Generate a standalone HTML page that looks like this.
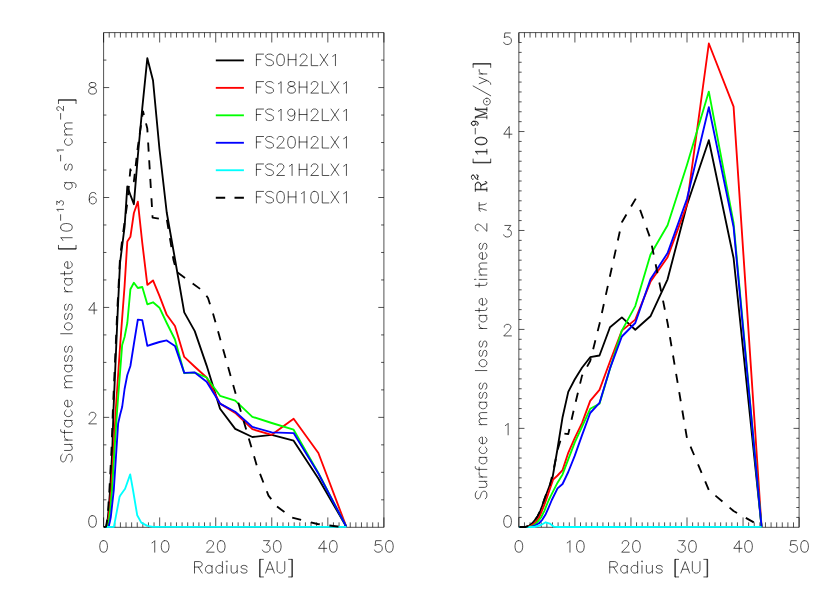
<!DOCTYPE html>
<html lang="en"><head><meta charset="utf-8"><title>Surface mass loss rate vs radius</title>
<style>
html,body{margin:0;padding:0;background:#fff;}
body{width:830px;height:593px;overflow:hidden;font-family:"Liberation Sans",sans-serif;}
svg{display:block;position:absolute;left:0;top:0;}
.sr{position:absolute;left:0;top:0;width:1px;height:1px;overflow:hidden;clip:rect(0 0 0 0);white-space:nowrap;font-family:"Liberation Sans",sans-serif;font-size:10px;color:#fff;}
</style></head><body>
<svg width="830" height="593" viewBox="0 0 830 593" role="img" aria-label="Surface mass loss rate versus radius">
<rect width="830" height="593" fill="#fff"/>
<path d="M103.6 32.6H383.9V527.3H103.6ZM103.6 527.3v-9.89M103.6 32.6v9.89M109.21 527.3v-4.95M109.21 32.6v4.95M114.81 527.3v-4.95M114.81 32.6v4.95M120.42 527.3v-4.95M120.42 32.6v4.95M126.02 527.3v-4.95M126.02 32.6v4.95M131.63 527.3v-4.95M131.63 32.6v4.95M137.24 527.3v-4.95M137.24 32.6v4.95M142.84 527.3v-4.95M142.84 32.6v4.95M148.45 527.3v-4.95M148.45 32.6v4.95M154.05 527.3v-4.95M154.05 32.6v4.95M159.66 527.3v-9.89M159.66 32.6v9.89M165.27 527.3v-4.95M165.27 32.6v4.95M170.87 527.3v-4.95M170.87 32.6v4.95M176.48 527.3v-4.95M176.48 32.6v4.95M182.08 527.3v-4.95M182.08 32.6v4.95M187.69 527.3v-4.95M187.69 32.6v4.95M193.3 527.3v-4.95M193.3 32.6v4.95M198.9 527.3v-4.95M198.9 32.6v4.95M204.51 527.3v-4.95M204.51 32.6v4.95M210.11 527.3v-4.95M210.11 32.6v4.95M215.72 527.3v-9.89M215.72 32.6v9.89M221.33 527.3v-4.95M221.33 32.6v4.95M226.93 527.3v-4.95M226.93 32.6v4.95M232.54 527.3v-4.95M232.54 32.6v4.95M238.14 527.3v-4.95M238.14 32.6v4.95M243.75 527.3v-4.95M243.75 32.6v4.95M249.36 527.3v-4.95M249.36 32.6v4.95M254.96 527.3v-4.95M254.96 32.6v4.95M260.57 527.3v-4.95M260.57 32.6v4.95M266.17 527.3v-4.95M266.17 32.6v4.95M271.78 527.3v-9.89M271.78 32.6v9.89M277.39 527.3v-4.95M277.39 32.6v4.95M282.99 527.3v-4.95M282.99 32.6v4.95M288.6 527.3v-4.95M288.6 32.6v4.95M294.2 527.3v-4.95M294.2 32.6v4.95M299.81 527.3v-4.95M299.81 32.6v4.95M305.42 527.3v-4.95M305.42 32.6v4.95M311.02 527.3v-4.95M311.02 32.6v4.95M316.63 527.3v-4.95M316.63 32.6v4.95M322.23 527.3v-4.95M322.23 32.6v4.95M327.84 527.3v-9.89M327.84 32.6v9.89M333.45 527.3v-4.95M333.45 32.6v4.95M339.05 527.3v-4.95M339.05 32.6v4.95M344.66 527.3v-4.95M344.66 32.6v4.95M350.26 527.3v-4.95M350.26 32.6v4.95M355.87 527.3v-4.95M355.87 32.6v4.95M361.48 527.3v-4.95M361.48 32.6v4.95M367.08 527.3v-4.95M367.08 32.6v4.95M372.69 527.3v-4.95M372.69 32.6v4.95M378.29 527.3v-4.95M378.29 32.6v4.95M383.9 527.3v-9.89M383.9 32.6v9.89M103.6 499.82h2.8M383.9 499.82h-2.8M103.6 472.33h2.8M383.9 472.33h-2.8M103.6 444.85h2.8M383.9 444.85h-2.8M103.6 417.37h5.61M383.9 417.37h-5.61M103.6 389.88h2.8M383.9 389.88h-2.8M103.6 362.4h2.8M383.9 362.4h-2.8M103.6 334.92h2.8M383.9 334.92h-2.8M103.6 307.43h5.61M383.9 307.43h-5.61M103.6 279.95h2.8M383.9 279.95h-2.8M103.6 252.47h2.8M383.9 252.47h-2.8M103.6 224.98h2.8M383.9 224.98h-2.8M103.6 197.5h5.61M383.9 197.5h-5.61M103.6 170.02h2.8M383.9 170.02h-2.8M103.6 142.53h2.8M383.9 142.53h-2.8M103.6 115.05h2.8M383.9 115.05h-2.8M103.6 87.57h5.61M383.9 87.57h-5.61M103.6 60.08h2.8M383.9 60.08h-2.8" stroke="#000" stroke-width="0.68" fill="none"/>
<path d="M518.85 32.6H799.1V527.3H518.85ZM518.85 527.3v-9.89M518.85 32.6v9.89M524.46 527.3v-4.95M524.46 32.6v4.95M530.06 527.3v-4.95M530.06 32.6v4.95M535.67 527.3v-4.95M535.67 32.6v4.95M541.27 527.3v-4.95M541.27 32.6v4.95M546.88 527.3v-4.95M546.88 32.6v4.95M552.48 527.3v-4.95M552.48 32.6v4.95M558.09 527.3v-4.95M558.09 32.6v4.95M563.69 527.3v-4.95M563.69 32.6v4.95M569.3 527.3v-4.95M569.3 32.6v4.95M574.9 527.3v-9.89M574.9 32.6v9.89M580.5 527.3v-4.95M580.5 32.6v4.95M586.11 527.3v-4.95M586.11 32.6v4.95M591.72 527.3v-4.95M591.72 32.6v4.95M597.32 527.3v-4.95M597.32 32.6v4.95M602.93 527.3v-4.95M602.93 32.6v4.95M608.53 527.3v-4.95M608.53 32.6v4.95M614.13 527.3v-4.95M614.13 32.6v4.95M619.74 527.3v-4.95M619.74 32.6v4.95M625.35 527.3v-4.95M625.35 32.6v4.95M630.95 527.3v-9.89M630.95 32.6v9.89M636.56 527.3v-4.95M636.56 32.6v4.95M642.16 527.3v-4.95M642.16 32.6v4.95M647.77 527.3v-4.95M647.77 32.6v4.95M653.37 527.3v-4.95M653.37 32.6v4.95M658.98 527.3v-4.95M658.98 32.6v4.95M664.58 527.3v-4.95M664.58 32.6v4.95M670.19 527.3v-4.95M670.19 32.6v4.95M675.79 527.3v-4.95M675.79 32.6v4.95M681.39 527.3v-4.95M681.39 32.6v4.95M687 527.3v-9.89M687 32.6v9.89M692.61 527.3v-4.95M692.61 32.6v4.95M698.21 527.3v-4.95M698.21 32.6v4.95M703.82 527.3v-4.95M703.82 32.6v4.95M709.42 527.3v-4.95M709.42 32.6v4.95M715.03 527.3v-4.95M715.03 32.6v4.95M720.63 527.3v-4.95M720.63 32.6v4.95M726.24 527.3v-4.95M726.24 32.6v4.95M731.84 527.3v-4.95M731.84 32.6v4.95M737.45 527.3v-4.95M737.45 32.6v4.95M743.05 527.3v-9.89M743.05 32.6v9.89M748.65 527.3v-4.95M748.65 32.6v4.95M754.26 527.3v-4.95M754.26 32.6v4.95M759.87 527.3v-4.95M759.87 32.6v4.95M765.47 527.3v-4.95M765.47 32.6v4.95M771.08 527.3v-4.95M771.08 32.6v4.95M776.68 527.3v-4.95M776.68 32.6v4.95M782.29 527.3v-4.95M782.29 32.6v4.95M787.89 527.3v-4.95M787.89 32.6v4.95M793.5 527.3v-4.95M793.5 32.6v4.95M799.1 527.3v-9.89M799.1 32.6v9.89M518.85 517.41h2.8M799.1 517.41h-2.8M518.85 507.51h2.8M799.1 507.51h-2.8M518.85 497.62h2.8M799.1 497.62h-2.8M518.85 487.72h2.8M799.1 487.72h-2.8M518.85 477.83h2.8M799.1 477.83h-2.8M518.85 467.94h2.8M799.1 467.94h-2.8M518.85 458.04h2.8M799.1 458.04h-2.8M518.85 448.15h2.8M799.1 448.15h-2.8M518.85 438.25h2.8M799.1 438.25h-2.8M518.85 428.36h5.61M799.1 428.36h-5.61M518.85 418.47h2.8M799.1 418.47h-2.8M518.85 408.57h2.8M799.1 408.57h-2.8M518.85 398.68h2.8M799.1 398.68h-2.8M518.85 388.78h2.8M799.1 388.78h-2.8M518.85 378.89h2.8M799.1 378.89h-2.8M518.85 369h2.8M799.1 369h-2.8M518.85 359.1h2.8M799.1 359.1h-2.8M518.85 349.21h2.8M799.1 349.21h-2.8M518.85 339.31h2.8M799.1 339.31h-2.8M518.85 329.42h5.61M799.1 329.42h-5.61M518.85 319.53h2.8M799.1 319.53h-2.8M518.85 309.63h2.8M799.1 309.63h-2.8M518.85 299.74h2.8M799.1 299.74h-2.8M518.85 289.84h2.8M799.1 289.84h-2.8M518.85 279.95h2.8M799.1 279.95h-2.8M518.85 270.06h2.8M799.1 270.06h-2.8M518.85 260.16h2.8M799.1 260.16h-2.8M518.85 250.27h2.8M799.1 250.27h-2.8M518.85 240.37h2.8M799.1 240.37h-2.8M518.85 230.48h5.61M799.1 230.48h-5.61M518.85 220.59h2.8M799.1 220.59h-2.8M518.85 210.69h2.8M799.1 210.69h-2.8M518.85 200.8h2.8M799.1 200.8h-2.8M518.85 190.9h2.8M799.1 190.9h-2.8M518.85 181.01h2.8M799.1 181.01h-2.8M518.85 171.12h2.8M799.1 171.12h-2.8M518.85 161.22h2.8M799.1 161.22h-2.8M518.85 151.33h2.8M799.1 151.33h-2.8M518.85 141.43h2.8M799.1 141.43h-2.8M518.85 131.54h5.61M799.1 131.54h-5.61M518.85 121.65h2.8M799.1 121.65h-2.8M518.85 111.75h2.8M799.1 111.75h-2.8M518.85 101.86h2.8M799.1 101.86h-2.8M518.85 91.96h2.8M799.1 91.96h-2.8M518.85 82.07h2.8M799.1 82.07h-2.8M518.85 72.18h2.8M799.1 72.18h-2.8M518.85 62.28h2.8M799.1 62.28h-2.8M518.85 52.39h2.8M799.1 52.39h-2.8M518.85 42.49h2.8M799.1 42.49h-2.8" stroke="#000" stroke-width="0.68" fill="none"/>
<path d="M104 527 L106.3 526.9 L107.6 520 L108.6 510 L110.1 490 L112.3 450 L113.5 409.5 L117.7 312 L120.02 263 L122.16 246 L124.58 227 L127.31 186.4 L130.4 195 L133.89 204.2 L137.83 156 L142.29 108 L147.33 58.2 L153.02 80.5 L159.46 149 L166.73 212.5 L174.96 259 L184.25 312.4 L194.75 331.1 L206.63 365.6 L220.04 408.7 L235.21 428.9 L252.35 437 L271.72 434.8 L293.62 440.7 L318.37 478.5 L346.34 526.8" fill="none" stroke="#000" stroke-width="1.85" stroke-linejoin="round"/>
<path d="M104 527 L107 526.9 L108.3 520 L109.4 510 L111.1 490 L113.6 450 L115.8 409.5 L118.13 375 L120.02 347 L122.16 318 L124.58 286 L127.31 241.5 L130.4 236.8 L133.89 213 L137.83 201.7 L142.29 243 L147.33 284.9 L153.02 280.4 L159.46 295.9 L166.73 314.8 L174.96 326 L184.25 356.9 L194.75 366.7 L206.63 377.5 L220.04 403.6 L235.21 412.9 L252.35 429.2 L271.72 434.8 L293.62 418.8 L318.37 453 L346.34 526.8" fill="none" stroke="#f00" stroke-width="1.85" stroke-linejoin="round"/>
<path d="M104 527 L107.7 526.9 L109 520 L110.2 510 L112.1 490 L114.5 450 L117.2 409.5 L122.16 345 L124.58 337 L127.31 323 L130.4 289.3 L133.89 282.7 L137.83 288 L142.29 287 L147.33 304.3 L153.02 302.3 L159.46 307.7 L166.73 323 L174.96 339.5 L184.25 373.2 L194.75 372.7 L206.63 377.5 L220.04 395.8 L235.21 400.6 L252.35 416.8 L271.72 423 L293.62 429.7 L318.37 473 L346.34 526.8" fill="none" stroke="#0f0" stroke-width="1.85" stroke-linejoin="round"/>
<path d="M104 527 L108.6 526.8 L109.8 522 L110.8 517 L113.8 490 L116.4 450 L118.13 423.6 L120.02 415 L122.16 407 L124.58 389 L127.31 375 L130.4 366 L133.89 344 L137.83 319.6 L142.29 320.1 L147.33 345.9 L153.02 344 L159.46 342 L166.73 340.4 L174.96 345.9 L184.25 372.9 L194.75 372.4 L206.63 381.7 L220.04 403.6 L235.21 411.7 L252.35 426.9 L271.72 432.3 L293.62 433.1 L318.37 473.5 L346.34 526.8" fill="none" stroke="#00f" stroke-width="1.85" stroke-linejoin="round"/>
<path d="M104 527 L113.9 526.9 L119.6 496.7 L120.6 495 L125.1 488.7 L130.2 474.4 L133 490 L137.2 515.2 L141.3 522.6 L147.3 525.9 L153 526.8 L346.34 526.8" fill="none" stroke="#0ff" stroke-width="1.85" stroke-linejoin="round"/>
<path d="M104 527 L106 526.9 L107.2 520 L108.1 510 L109.4 490 L111.5 450 L112.9 409.5 L117.2 312 L120.02 258 L122.16 240 L124.58 222 L127.31 203 L130.4 169.3 L133.89 181.3 L137.83 147 L143 111.3 L147.3 128.5 L152.6 217.7 L160.3 218.8 L166.9 219.7 L173.5 260 L176.7 271.8 L203 291 L208 298 L213 313.4 L235.8 394.3 L256.7 465.3 L268.5 495.6 L277 506.6 L292.2 517.6 L317.5 524 L337.7 526.5 L346.34 526.9" fill="none" stroke="#000" stroke-width="1.85" stroke-linejoin="round" stroke-dasharray="9.2 9.11 9.2 9.11 9.2 9.11 9.2 9.11 9.2 9.48 9.2 9.48 9.2 9.48 9.2 9.48 9.2 9.48 9.2 9.48 9.2 9.48 9.2 9.48 9.2 9.48 9.2 9.48 9.2 9.48 9.2 9.48 9.2 9.48 9.2 9.48 9.2 9.48 9.2 9.8 8.33 7.69 8.33 7.69 8.33 7.69 9.2 8.65 9.2 8.65 9.2 10.1 9.2 8.58 9.2 9.44 9.2 10.24 8.83 8.15 8.83 8.15 9.2 9.44 9.2 9.18 8.91 8.23 9.2 9.42 9.2 9.49 9.2 9.72 9.2 9.39 9.2 9.39 9.2 9.39 9.2 9.39 9.2 9.39 9.2 9.39 9.2 9.39 9.2 9.39 9.2 9.39 9.2 9.39 9.2 9.39 9.2 9.56 9.2 9.96 9.2 9.66 9.2 9.45 9.2 9.45 9.2 9.45 9.2 9.45 9.2 9.45 9.2 9.45"/>
<path d="M519.3 527 L525.5 527 L528.9 526 L532.2 523.3 L534.9 520.2 L537.6 516.2 L540.3 510.8 L542.4 505.4 L544.1 500 L545.8 495.8 L552.5 477.9 L557.3 450 L562.57 417.2 L568.26 391.9 L574.7 379.5 L581.97 367.7 L590.19 357.2 L599.49 355.5 L609.99 327.2 L621.86 317.4 L635.27 329.7 L650.44 316.3 L667.57 279.3 L686.94 205 L708.84 140.2 L733.58 258 L761.55 526.8" fill="none" stroke="#000" stroke-width="1.85" stroke-linejoin="round"/>
<path d="M519.3 527 L527 527 L530.5 526.2 L535.6 522.3 L539 517.5 L541.7 511.5 L544.4 504.7 L546.1 500 L548 494.4 L553.07 479.7 L557.53 475.5 L562.57 470.1 L568.26 452.8 L574.7 438.1 L581.97 423.1 L590.19 400.9 L599.49 389.9 L609.99 361.5 L621.86 330.6 L635.27 319.6 L650.44 281.8 L667.57 257.3 L686.94 204.7 L708.84 43.5 L733.58 106.7 L761.55 526.8" fill="none" stroke="#f00" stroke-width="1.85" stroke-linejoin="round"/>
<path d="M519.3 527 L529 527 L532.5 526.2 L537 522.6 L541 517.5 L544.4 510.8 L547.1 504 L548.8 500 L550.8 495.8 L557.53 482.7 L562.57 474.4 L568.26 459.4 L574.7 442.6 L581.97 426.8 L590.19 408.8 L599.49 403.7 L609.99 368.8 L621.86 330.6 L635.27 306.1 L650.44 254.8 L667.57 225.3 L686.94 165 L708.84 91.6 L733.58 223 L761.55 526.8" fill="none" stroke="#0f0" stroke-width="1.85" stroke-linejoin="round"/>
<path d="M519.3 527 L531 527 L534.3 526 L539 523.3 L542.4 519.6 L545.7 514.2 L548.4 508.1 L551.8 500 L557.53 488.4 L562.57 484 L568.26 472 L574.7 455.9 L581.97 435.4 L590.19 413 L599.49 402.9 L609.99 368.4 L621.86 336.5 L635.27 323 L650.44 279.3 L667.57 253.1 L686.94 199 L708.84 107.2 L733.58 227 L761.55 526.8" fill="none" stroke="#00f" stroke-width="1.85" stroke-linejoin="round"/>
<path d="M519.3 527 L534.3 527 L541 525 L545.7 522.3 L549.8 523.6 L553.8 526.7 L558 527 L761.55 526.8" fill="none" stroke="#0ff" stroke-width="1.85" stroke-linejoin="round"/>
<path d="M519.3 527 L525.5 527 L528.9 526 L532.2 523.3 L534.9 520.2 L537.6 516.2 L540.3 510.8 L542.55 505 L545.64 495.6 L549.13 488.2 L553.07 472.1 L557.53 450.2 L562.57 433.5 L568.26 434.1 L574.7 406 L581.97 375.9 L590.19 361 L599.49 324 L609.99 276 L621.86 222.2 L636 198.3 L650.44 238.7 L667.57 323 L686.94 438 L708.84 490 L733.58 511 L761.55 526.8" fill="none" stroke="#000" stroke-width="1.85" stroke-linejoin="round" stroke-dasharray="9.2 9.38 9.2 9.38 9.2 9.38 9.2 9.38 9.2 9.38 9.2 9.38 9.2 9.38 9.2 9.38 9.2 9.38 9.2 9.38 9.2 9.38 9.2 9.38 9.2 9.38 9.2 9.38 9.2 9.38 9.2 9.38 9.2 9.38 9.2 9.24 9.2 9.22 9.2 12.65 9.2 9.79 9.2 9.58 9.2 9.79 9.2 9.38 9.2 9.38 9.2 9.38 9.2 9.38 9.2 9.38 9.2 9.38 9.2 9.38 9.2 9.38 9.2 9.38 9.2 9.38 9.2 10.15 9.2 9.23 9.2 8.82 9.2 9.4 9.2 10.06 9.2 9.45 9.2 9.45 9.2 9.45 9.2 9.45 9.2 9.45 9.2 9.45"/>
<path transform="translate(103.6 552.2) translate(-5.47 0)" d="M4.92 -11.53 L6.02 -11.53 L7.66 -10.98 L8.75 -9.33 L9.3 -6.59 L9.3 -4.94 L8.75 -2.2 L7.66 -0.55 L6.02 0 L4.92 0 L3.28 -0.55 L2.19 -2.2 L1.64 -4.94 L1.64 -6.59 L2.19 -9.33 L3.28 -10.98 L4.92 -11.53" fill="none" stroke="#000" stroke-width="0.68" stroke-linecap="round" stroke-linejoin="round"/>
<path transform="translate(159.66 552.2) translate(-10.94 0)" d="M6.02 0 L6.02 -11.53 L4.38 -9.88 L3.28 -9.33M15.86 -11.53 L16.96 -11.53 L18.6 -10.98 L19.69 -9.33 L20.24 -6.59 L20.24 -4.94 L19.69 -2.2 L18.6 -0.55 L16.96 0 L15.86 0 L14.22 -0.55 L13.13 -2.2 L12.58 -4.94 L12.58 -6.59 L13.13 -9.33 L14.22 -10.98 L15.86 -11.53" fill="none" stroke="#000" stroke-width="0.68" stroke-linecap="round" stroke-linejoin="round"/>
<path transform="translate(215.72 552.2) translate(-10.94 0)" d="M2.19 -8.78 L2.19 -9.33 L2.74 -10.43 L3.28 -10.98 L4.38 -11.53 L6.56 -11.53 L7.66 -10.98 L8.21 -10.43 L8.75 -9.33 L8.75 -8.24 L8.21 -7.14 L7.11 -5.49 L1.64 0 L9.3 0M15.86 -11.53 L16.96 -11.53 L18.6 -10.98 L19.69 -9.33 L20.24 -6.59 L20.24 -4.94 L19.69 -2.2 L18.6 -0.55 L16.96 0 L15.86 0 L14.22 -0.55 L13.13 -2.2 L12.58 -4.94 L12.58 -6.59 L13.13 -9.33 L14.22 -10.98 L15.86 -11.53" fill="none" stroke="#000" stroke-width="0.68" stroke-linecap="round" stroke-linejoin="round"/>
<path transform="translate(271.78 552.2) translate(-10.94 0)" d="M2.74 -11.53 L8.75 -11.53 L5.47 -7.14 L7.11 -7.14 L8.21 -6.59 L8.75 -6.04 L9.3 -4.39 L9.3 -3.29 L8.75 -1.65 L7.66 -0.55 L6.02 0 L4.38 0 L2.74 -0.55 L2.19 -1.1 L1.64 -2.2M15.86 -11.53 L16.96 -11.53 L18.6 -10.98 L19.69 -9.33 L20.24 -6.59 L20.24 -4.94 L19.69 -2.2 L18.6 -0.55 L16.96 0 L15.86 0 L14.22 -0.55 L13.13 -2.2 L12.58 -4.94 L12.58 -6.59 L13.13 -9.33 L14.22 -10.98 L15.86 -11.53" fill="none" stroke="#000" stroke-width="0.68" stroke-linecap="round" stroke-linejoin="round"/>
<path transform="translate(327.84 552.2) translate(-10.94 0)" d="M7.11 0 L7.11 -11.53 L1.64 -3.84 L9.85 -3.84M15.86 -11.53 L16.96 -11.53 L18.6 -10.98 L19.69 -9.33 L20.24 -6.59 L20.24 -4.94 L19.69 -2.2 L18.6 -0.55 L16.96 0 L15.86 0 L14.22 -0.55 L13.13 -2.2 L12.58 -4.94 L12.58 -6.59 L13.13 -9.33 L14.22 -10.98 L15.86 -11.53" fill="none" stroke="#000" stroke-width="0.68" stroke-linecap="round" stroke-linejoin="round"/>
<path transform="translate(383.9 552.2) translate(-10.94 0)" d="M8.21 -11.53 L2.74 -11.53 L2.19 -6.59 L2.74 -7.14 L4.38 -7.69 L6.02 -7.69 L7.66 -7.14 L8.75 -6.04 L9.3 -4.39 L9.3 -3.29 L8.75 -1.65 L7.66 -0.55 L6.02 0 L4.38 0 L2.74 -0.55 L2.19 -1.1 L1.64 -2.2M15.86 -11.53 L16.96 -11.53 L18.6 -10.98 L19.69 -9.33 L20.24 -6.59 L20.24 -4.94 L19.69 -2.2 L18.6 -0.55 L16.96 0 L15.86 0 L14.22 -0.55 L13.13 -2.2 L12.58 -4.94 L12.58 -6.59 L13.13 -9.33 L14.22 -10.98 L15.86 -11.53" fill="none" stroke="#000" stroke-width="0.68" stroke-linecap="round" stroke-linejoin="round"/>
<path transform="translate(243.45 573.1) translate(-51.14 0)" d="M2.19 0 L2.19 -11.53 L7.11 -11.53 L8.75 -10.98 L9.3 -10.43 L9.85 -9.33 L9.85 -8.24 L9.3 -7.14 L8.75 -6.59 L7.11 -6.04 L2.19 -6.04M6.02 -6.04 L9.85 0M19.69 -7.69 L19.69 0M19.69 -6.04 L18.6 -7.14 L17.5 -7.69 L15.86 -7.69 L14.77 -7.14 L13.68 -6.04 L13.13 -4.39 L13.13 -3.29 L13.68 -1.65 L14.77 -0.55 L15.86 0 L17.5 0 L18.6 -0.55 L19.69 -1.65M30.09 -11.53 L30.09 0M30.09 -6.04 L28.99 -7.14 L27.9 -7.69 L26.26 -7.69 L25.16 -7.14 L24.07 -6.04 L23.52 -4.39 L23.52 -3.29 L24.07 -1.65 L25.16 -0.55 L26.26 0 L27.9 0 L28.99 -0.55 L30.09 -1.65M34.46 -7.69 L34.46 0M34.46 -12.08 L33.91 -11.53 L34.46 -10.98 L35.01 -11.53 L34.46 -12.08M38.84 -7.69 L38.84 -2.2 L39.38 -0.55 L40.48 0 L42.12 0 L43.21 -0.55 L44.85 -2.2M44.85 -7.69 L44.85 0M54.7 -6.04 L54.15 -7.14 L52.51 -7.69 L50.87 -7.69 L49.23 -7.14 L48.68 -6.04 L49.23 -4.94 L50.32 -4.39 L53.06 -3.84 L54.15 -3.29 L54.7 -2.2 L54.7 -1.65 L54.15 -0.55 L52.51 0 L50.87 0 L49.23 -0.55 L48.68 -1.65M71.11 -13.73 L67.28 -13.73 L67.28 3.84 L71.11 3.84M67.83 -13.73 L67.83 3.84M73.3 0 L77.67 -11.53 L82.05 0M74.94 -3.84 L80.41 -3.84M84.79 -11.53 L84.79 -3.29 L85.33 -1.65 L86.43 -0.55 L88.07 0 L89.16 0 L90.8 -0.55 L91.9 -1.65 L92.44 -3.29 L92.44 -11.53M96.27 -13.73 L100.1 -13.73 L100.1 3.84 L96.27 3.84M99.55 -13.73 L99.55 3.84" fill="none" stroke="#000" stroke-width="0.68" stroke-linecap="round" stroke-linejoin="round"/>
<path transform="translate(518.85 552.2) translate(-5.47 0)" d="M4.92 -11.53 L6.02 -11.53 L7.66 -10.98 L8.75 -9.33 L9.3 -6.59 L9.3 -4.94 L8.75 -2.2 L7.66 -0.55 L6.02 0 L4.92 0 L3.28 -0.55 L2.19 -2.2 L1.64 -4.94 L1.64 -6.59 L2.19 -9.33 L3.28 -10.98 L4.92 -11.53" fill="none" stroke="#000" stroke-width="0.68" stroke-linecap="round" stroke-linejoin="round"/>
<path transform="translate(574.9 552.2) translate(-10.94 0)" d="M6.02 0 L6.02 -11.53 L4.38 -9.88 L3.28 -9.33M15.86 -11.53 L16.96 -11.53 L18.6 -10.98 L19.69 -9.33 L20.24 -6.59 L20.24 -4.94 L19.69 -2.2 L18.6 -0.55 L16.96 0 L15.86 0 L14.22 -0.55 L13.13 -2.2 L12.58 -4.94 L12.58 -6.59 L13.13 -9.33 L14.22 -10.98 L15.86 -11.53" fill="none" stroke="#000" stroke-width="0.68" stroke-linecap="round" stroke-linejoin="round"/>
<path transform="translate(630.95 552.2) translate(-10.94 0)" d="M2.19 -8.78 L2.19 -9.33 L2.74 -10.43 L3.28 -10.98 L4.38 -11.53 L6.56 -11.53 L7.66 -10.98 L8.21 -10.43 L8.75 -9.33 L8.75 -8.24 L8.21 -7.14 L7.11 -5.49 L1.64 0 L9.3 0M15.86 -11.53 L16.96 -11.53 L18.6 -10.98 L19.69 -9.33 L20.24 -6.59 L20.24 -4.94 L19.69 -2.2 L18.6 -0.55 L16.96 0 L15.86 0 L14.22 -0.55 L13.13 -2.2 L12.58 -4.94 L12.58 -6.59 L13.13 -9.33 L14.22 -10.98 L15.86 -11.53" fill="none" stroke="#000" stroke-width="0.68" stroke-linecap="round" stroke-linejoin="round"/>
<path transform="translate(687 552.2) translate(-10.94 0)" d="M2.74 -11.53 L8.75 -11.53 L5.47 -7.14 L7.11 -7.14 L8.21 -6.59 L8.75 -6.04 L9.3 -4.39 L9.3 -3.29 L8.75 -1.65 L7.66 -0.55 L6.02 0 L4.38 0 L2.74 -0.55 L2.19 -1.1 L1.64 -2.2M15.86 -11.53 L16.96 -11.53 L18.6 -10.98 L19.69 -9.33 L20.24 -6.59 L20.24 -4.94 L19.69 -2.2 L18.6 -0.55 L16.96 0 L15.86 0 L14.22 -0.55 L13.13 -2.2 L12.58 -4.94 L12.58 -6.59 L13.13 -9.33 L14.22 -10.98 L15.86 -11.53" fill="none" stroke="#000" stroke-width="0.68" stroke-linecap="round" stroke-linejoin="round"/>
<path transform="translate(743.05 552.2) translate(-10.94 0)" d="M7.11 0 L7.11 -11.53 L1.64 -3.84 L9.85 -3.84M15.86 -11.53 L16.96 -11.53 L18.6 -10.98 L19.69 -9.33 L20.24 -6.59 L20.24 -4.94 L19.69 -2.2 L18.6 -0.55 L16.96 0 L15.86 0 L14.22 -0.55 L13.13 -2.2 L12.58 -4.94 L12.58 -6.59 L13.13 -9.33 L14.22 -10.98 L15.86 -11.53" fill="none" stroke="#000" stroke-width="0.68" stroke-linecap="round" stroke-linejoin="round"/>
<path transform="translate(799.1 552.2) translate(-10.94 0)" d="M8.21 -11.53 L2.74 -11.53 L2.19 -6.59 L2.74 -7.14 L4.38 -7.69 L6.02 -7.69 L7.66 -7.14 L8.75 -6.04 L9.3 -4.39 L9.3 -3.29 L8.75 -1.65 L7.66 -0.55 L6.02 0 L4.38 0 L2.74 -0.55 L2.19 -1.1 L1.64 -2.2M15.86 -11.53 L16.96 -11.53 L18.6 -10.98 L19.69 -9.33 L20.24 -6.59 L20.24 -4.94 L19.69 -2.2 L18.6 -0.55 L16.96 0 L15.86 0 L14.22 -0.55 L13.13 -2.2 L12.58 -4.94 L12.58 -6.59 L13.13 -9.33 L14.22 -10.98 L15.86 -11.53" fill="none" stroke="#000" stroke-width="0.68" stroke-linecap="round" stroke-linejoin="round"/>
<path transform="translate(658.68 573.1) translate(-51.14 0)" d="M2.19 0 L2.19 -11.53 L7.11 -11.53 L8.75 -10.98 L9.3 -10.43 L9.85 -9.33 L9.85 -8.24 L9.3 -7.14 L8.75 -6.59 L7.11 -6.04 L2.19 -6.04M6.02 -6.04 L9.85 0M19.69 -7.69 L19.69 0M19.69 -6.04 L18.6 -7.14 L17.5 -7.69 L15.86 -7.69 L14.77 -7.14 L13.68 -6.04 L13.13 -4.39 L13.13 -3.29 L13.68 -1.65 L14.77 -0.55 L15.86 0 L17.5 0 L18.6 -0.55 L19.69 -1.65M30.09 -11.53 L30.09 0M30.09 -6.04 L28.99 -7.14 L27.9 -7.69 L26.26 -7.69 L25.16 -7.14 L24.07 -6.04 L23.52 -4.39 L23.52 -3.29 L24.07 -1.65 L25.16 -0.55 L26.26 0 L27.9 0 L28.99 -0.55 L30.09 -1.65M34.46 -7.69 L34.46 0M34.46 -12.08 L33.91 -11.53 L34.46 -10.98 L35.01 -11.53 L34.46 -12.08M38.84 -7.69 L38.84 -2.2 L39.38 -0.55 L40.48 0 L42.12 0 L43.21 -0.55 L44.85 -2.2M44.85 -7.69 L44.85 0M54.7 -6.04 L54.15 -7.14 L52.51 -7.69 L50.87 -7.69 L49.23 -7.14 L48.68 -6.04 L49.23 -4.94 L50.32 -4.39 L53.06 -3.84 L54.15 -3.29 L54.7 -2.2 L54.7 -1.65 L54.15 -0.55 L52.51 0 L50.87 0 L49.23 -0.55 L48.68 -1.65M71.11 -13.73 L67.28 -13.73 L67.28 3.84 L71.11 3.84M67.83 -13.73 L67.83 3.84M73.3 0 L77.67 -11.53 L82.05 0M74.94 -3.84 L80.41 -3.84M84.79 -11.53 L84.79 -3.29 L85.33 -1.65 L86.43 -0.55 L88.07 0 L89.16 0 L90.8 -0.55 L91.9 -1.65 L92.44 -3.29 L92.44 -11.53M96.27 -13.73 L100.1 -13.73 L100.1 3.84 L96.27 3.84M99.55 -13.73 L99.55 3.84" fill="none" stroke="#000" stroke-width="0.68" stroke-linecap="round" stroke-linejoin="round"/>
<path transform="translate(98 527.2) translate(-10.94 0)" d="M4.92 -11.53 L6.02 -11.53 L7.66 -10.98 L8.75 -9.33 L9.3 -6.59 L9.3 -4.94 L8.75 -2.2 L7.66 -0.55 L6.02 0 L4.92 0 L3.28 -0.55 L2.19 -2.2 L1.64 -4.94 L1.64 -6.59 L2.19 -9.33 L3.28 -10.98 L4.92 -11.53" fill="none" stroke="#000" stroke-width="0.68" stroke-linecap="round" stroke-linejoin="round"/>
<path transform="translate(98 423.87) translate(-10.94 0)" d="M2.19 -8.78 L2.19 -9.33 L2.74 -10.43 L3.28 -10.98 L4.38 -11.53 L6.56 -11.53 L7.66 -10.98 L8.21 -10.43 L8.75 -9.33 L8.75 -8.24 L8.21 -7.14 L7.11 -5.49 L1.64 0 L9.3 0" fill="none" stroke="#000" stroke-width="0.68" stroke-linecap="round" stroke-linejoin="round"/>
<path transform="translate(98 313.93) translate(-10.94 0)" d="M7.11 0 L7.11 -11.53 L1.64 -3.84 L9.85 -3.84" fill="none" stroke="#000" stroke-width="0.68" stroke-linecap="round" stroke-linejoin="round"/>
<path transform="translate(98 204) translate(-10.94 0)" d="M8.75 -9.88 L8.21 -10.98 L6.56 -11.53 L5.47 -11.53 L3.83 -10.98 L2.74 -9.33 L2.19 -6.59 L2.19 -3.84 L2.74 -5.49 L3.83 -6.59 L5.47 -7.14 L6.02 -7.14 L7.66 -6.59 L8.75 -5.49 L9.3 -3.84 L9.3 -3.29 L8.75 -1.65 L7.66 -0.55 L6.02 0 L5.47 0 L3.83 -0.55 L2.74 -1.65 L2.19 -3.84" fill="none" stroke="#000" stroke-width="0.68" stroke-linecap="round" stroke-linejoin="round"/>
<path transform="translate(98 94.07) translate(-10.94 0)" d="M4.38 -11.53 L6.56 -11.53 L8.21 -10.98 L8.75 -9.88 L8.75 -8.78 L8.21 -7.69 L7.11 -7.14 L4.92 -6.59 L3.28 -6.04 L2.19 -4.94 L1.64 -3.84 L1.64 -2.2 L2.19 -1.1 L2.74 -0.55 L4.38 0 L6.56 0 L8.21 -0.55 L8.75 -1.1 L9.3 -2.2 L9.3 -3.84 L8.75 -4.94 L7.66 -6.04 L6.02 -6.59 L3.83 -7.14 L2.74 -7.69 L2.19 -8.78 L2.19 -9.88 L2.74 -10.98 L4.38 -11.53" fill="none" stroke="#000" stroke-width="0.68" stroke-linecap="round" stroke-linejoin="round"/>
<path transform="translate(513.05 527.2) translate(-10.94 0)" d="M4.92 -11.53 L6.02 -11.53 L7.66 -10.98 L8.75 -9.33 L9.3 -6.59 L9.3 -4.94 L8.75 -2.2 L7.66 -0.55 L6.02 0 L4.92 0 L3.28 -0.55 L2.19 -2.2 L1.64 -4.94 L1.64 -6.59 L2.19 -9.33 L3.28 -10.98 L4.92 -11.53" fill="none" stroke="#000" stroke-width="0.68" stroke-linecap="round" stroke-linejoin="round"/>
<path transform="translate(513.05 434.86) translate(-10.94 0)" d="M6.02 0 L6.02 -11.53 L4.38 -9.88 L3.28 -9.33" fill="none" stroke="#000" stroke-width="0.68" stroke-linecap="round" stroke-linejoin="round"/>
<path transform="translate(513.05 335.92) translate(-10.94 0)" d="M2.19 -8.78 L2.19 -9.33 L2.74 -10.43 L3.28 -10.98 L4.38 -11.53 L6.56 -11.53 L7.66 -10.98 L8.21 -10.43 L8.75 -9.33 L8.75 -8.24 L8.21 -7.14 L7.11 -5.49 L1.64 0 L9.3 0" fill="none" stroke="#000" stroke-width="0.68" stroke-linecap="round" stroke-linejoin="round"/>
<path transform="translate(513.05 236.98) translate(-10.94 0)" d="M2.74 -11.53 L8.75 -11.53 L5.47 -7.14 L7.11 -7.14 L8.21 -6.59 L8.75 -6.04 L9.3 -4.39 L9.3 -3.29 L8.75 -1.65 L7.66 -0.55 L6.02 0 L4.38 0 L2.74 -0.55 L2.19 -1.1 L1.64 -2.2" fill="none" stroke="#000" stroke-width="0.68" stroke-linecap="round" stroke-linejoin="round"/>
<path transform="translate(513.05 138.04) translate(-10.94 0)" d="M7.11 0 L7.11 -11.53 L1.64 -3.84 L9.85 -3.84" fill="none" stroke="#000" stroke-width="0.68" stroke-linecap="round" stroke-linejoin="round"/>
<path transform="translate(513.05 44.48) translate(-10.94 0)" d="M8.21 -11.53 L2.74 -11.53 L2.19 -6.59 L2.74 -7.14 L4.38 -7.69 L6.02 -7.69 L7.66 -7.14 L8.75 -6.04 L9.3 -4.39 L9.3 -3.29 L8.75 -1.65 L7.66 -0.55 L6.02 0 L4.38 0 L2.74 -0.55 L2.19 -1.1 L1.64 -2.2" fill="none" stroke="#000" stroke-width="0.68" stroke-linecap="round" stroke-linejoin="round"/>
<path transform="translate(72.2 280.55) rotate(-90) translate(-183 0)" d="M9.27 -9.88 L8.18 -10.98 L6.55 -11.53 L4.36 -11.53 L2.73 -10.98 L1.64 -9.88 L1.64 -8.78 L2.18 -7.69 L2.73 -7.14 L3.82 -6.59 L7.09 -5.49 L8.18 -4.94 L8.73 -4.39 L9.27 -3.29 L9.27 -1.65 L8.18 -0.55 L6.55 0 L4.36 0 L2.73 -0.55 L1.64 -1.65M13.09 -7.69 L13.09 -2.2 L13.64 -0.55 L14.73 0 L16.37 0 L17.46 -0.55 L19.09 -2.2M19.09 -7.69 L19.09 0M23.46 -7.69 L23.46 0M27.82 -7.69 L26.18 -7.69 L25.09 -7.14 L24 -6.04 L23.46 -4.39M33.82 -11.53 L32.73 -11.53 L31.64 -10.98 L31.09 -9.33 L31.09 0M29.46 -7.69 L33.28 -7.69M43.09 -7.69 L43.09 0M43.09 -6.04 L42 -7.14 L40.91 -7.69 L39.28 -7.69 L38.19 -7.14 L37.09 -6.04 L36.55 -4.39 L36.55 -3.29 L37.09 -1.65 L38.19 -0.55 L39.28 0 L40.91 0 L42 -0.55 L43.09 -1.65M53.46 -6.04 L52.37 -7.14 L51.28 -7.69 L49.64 -7.69 L48.55 -7.14 L47.46 -6.04 L46.91 -4.39 L46.91 -3.29 L47.46 -1.65 L48.55 -0.55 L49.64 0 L51.28 0 L52.37 -0.55 L53.46 -1.65M63.28 -1.65 L62.19 -0.55 L61.1 0 L59.46 0 L58.37 -0.55 L57.28 -1.65 L56.73 -3.29 L56.73 -4.39 L57.28 -6.04 L58.37 -7.14 L59.46 -7.69 L61.1 -7.69 L62.19 -7.14 L62.73 -6.59 L63.28 -5.49 L63.28 -4.39 L56.73 -4.39M75.82 -7.69 L75.82 0M75.82 -5.49 L77.46 -7.14 L78.55 -7.69 L80.19 -7.69 L81.28 -7.14 L81.83 -5.49 L83.46 -7.14 L84.55 -7.69 L86.19 -7.69 L87.28 -7.14 L87.83 -5.49 L87.83 0M81.83 -5.49 L81.83 0M98.19 -7.69 L98.19 0M98.19 -6.04 L97.1 -7.14 L96.01 -7.69 L94.37 -7.69 L93.28 -7.14 L92.19 -6.04 L91.64 -4.39 L91.64 -3.29 L92.19 -1.65 L93.28 -0.55 L94.37 0 L96.01 0 L97.1 -0.55 L98.19 -1.65M108.01 -6.04 L107.46 -7.14 L105.83 -7.69 L104.19 -7.69 L102.55 -7.14 L102.01 -6.04 L102.55 -4.94 L103.64 -4.39 L106.37 -3.84 L107.46 -3.29 L108.01 -2.2 L108.01 -1.65 L107.46 -0.55 L105.83 0 L104.19 0 L102.55 -0.55 L102.01 -1.65M117.28 -6.04 L116.74 -7.14 L115.1 -7.69 L113.46 -7.69 L111.83 -7.14 L111.28 -6.04 L111.83 -4.94 L112.92 -4.39 L115.65 -3.84 L116.74 -3.29 L117.28 -2.2 L117.28 -1.65 L116.74 -0.55 L115.1 0 L113.46 0 L111.83 -0.55 L111.28 -1.65M129.83 -11.53 L129.83 0M136.37 -7.69 L138.01 -7.69 L139.1 -7.14 L140.19 -6.04 L140.74 -4.39 L140.74 -3.29 L140.19 -1.65 L139.1 -0.55 L138.01 0 L136.37 0 L135.28 -0.55 L134.19 -1.65 L133.65 -3.29 L133.65 -4.39 L134.19 -6.04 L135.28 -7.14 L136.37 -7.69M150.01 -6.04 L149.47 -7.14 L147.83 -7.69 L146.19 -7.69 L144.56 -7.14 L144.01 -6.04 L144.56 -4.94 L145.65 -4.39 L148.38 -3.84 L149.47 -3.29 L150.01 -2.2 L150.01 -1.65 L149.47 -0.55 L147.83 0 L146.19 0 L144.56 -0.55 L144.01 -1.65M159.29 -6.04 L158.74 -7.14 L157.1 -7.69 L155.47 -7.69 L153.83 -7.14 L153.29 -6.04 L153.83 -4.94 L154.92 -4.39 L157.65 -3.84 L158.74 -3.29 L159.29 -2.2 L159.29 -1.65 L158.74 -0.55 L157.1 0 L155.47 0 L153.83 -0.55 L153.29 -1.65M171.83 -7.69 L171.83 0M176.2 -7.69 L174.56 -7.69 L173.47 -7.14 L172.38 -6.04 L171.83 -4.39M184.92 -7.69 L184.92 0M184.92 -6.04 L183.83 -7.14 L182.74 -7.69 L181.11 -7.69 L180.01 -7.14 L178.92 -6.04 L178.38 -4.39 L178.38 -3.29 L178.92 -1.65 L180.01 -0.55 L181.11 0 L182.74 0 L183.83 -0.55 L184.92 -1.65M189.83 -11.53 L189.83 -2.2 L190.38 -0.55 L191.47 0 L192.56 0M188.2 -7.69 L192.02 -7.69M201.83 -1.65 L200.74 -0.55 L199.65 0 L198.02 0 L196.93 -0.55 L195.83 -1.65 L195.29 -3.29 L195.29 -4.39 L195.83 -6.04 L196.93 -7.14 L198.02 -7.69 L199.65 -7.69 L200.74 -7.14 L201.29 -6.59 L201.83 -5.49 L201.83 -4.39 L195.29 -4.39M218.2 -13.73 L214.38 -13.73 L214.38 3.84 L218.2 3.84M214.93 -13.73 L214.93 3.84M225.84 0 L225.84 -11.53 L224.2 -9.88 L223.11 -9.33M235.66 -11.53 L236.75 -11.53 L238.38 -10.98 L239.47 -9.33 L240.02 -6.59 L240.02 -4.94 L239.47 -2.2 L238.38 -0.55 L236.75 0 L235.66 0 L234.02 -0.55 L232.93 -2.2 L232.38 -4.94 L232.38 -6.59 L232.93 -9.33 L234.02 -10.98 L235.66 -11.53M243.22 -11.58 L248.89 -11.58M254.15 -8.73 L254.15 -15.39 L253.2 -14.44 L252.57 -14.12M259.02 -15.39 L262.49 -15.39 L260.6 -12.85 L261.54 -12.85 L262.17 -12.54 L262.49 -12.22 L262.8 -11.27 L262.8 -10.63 L262.49 -9.68 L261.86 -9.05 L260.91 -8.73 L259.97 -8.73 L259.02 -9.05 L258.7 -9.36 L258.39 -10M280.89 -7.69 L280.89 1.1 L280.34 2.75 L279.8 3.29 L278.71 3.84 L277.07 3.84 L275.98 3.29M280.89 -6.04 L279.8 -7.14 L278.71 -7.69 L277.07 -7.69 L275.98 -7.14 L274.89 -6.04 L274.34 -4.39 L274.34 -3.29 L274.89 -1.65 L275.98 -0.55 L277.07 0 L278.71 0 L279.8 -0.55 L280.89 -1.65M299.44 -6.04 L298.89 -7.14 L297.25 -7.69 L295.62 -7.69 L293.98 -7.14 L293.44 -6.04 L293.98 -4.94 L295.07 -4.39 L297.8 -3.84 L298.89 -3.29 L299.44 -2.2 L299.44 -1.65 L298.89 -0.55 L297.25 0 L295.62 0 L293.98 -0.55 L293.44 -1.65M302.63 -11.58 L308.31 -11.58M313.56 -8.73 L313.56 -15.39 L312.62 -14.44 L311.99 -14.12M324.81 -6.04 L323.72 -7.14 L322.63 -7.69 L320.99 -7.69 L319.9 -7.14 L318.81 -6.04 L318.27 -4.39 L318.27 -3.29 L318.81 -1.65 L319.9 -0.55 L320.99 0 L322.63 0 L323.72 -0.55 L324.81 -1.65M328.63 -7.69 L328.63 0M328.63 -5.49 L330.27 -7.14 L331.36 -7.69 L333 -7.69 L334.09 -7.14 L334.63 -5.49 L336.27 -7.14 L337.36 -7.69 L339 -7.69 L340.09 -7.14 L340.63 -5.49 L340.63 0M334.63 -5.49 L334.63 0M344.37 -11.58 L350.05 -11.58M353.1 -13.81 L353.1 -14.12 L353.41 -14.76 L353.73 -15.08 L354.36 -15.39 L355.62 -15.39 L356.25 -15.08 L356.57 -14.76 L356.88 -14.12 L356.88 -13.49 L356.57 -12.85 L355.94 -11.9 L352.78 -8.73 L357.2 -8.73M360.01 -13.73 L363.83 -13.73 L363.83 3.84 L360.01 3.84M363.28 -13.73 L363.28 3.84" fill="none" stroke="#000" stroke-width="0.68" stroke-linecap="round" stroke-linejoin="round"/>
<path transform="translate(486.85 280.95) rotate(-90) translate(-219.55 0)" d="M9.28 -9.88 L8.19 -10.98 L6.55 -11.53 L4.37 -11.53 L2.73 -10.98 L1.64 -9.88 L1.64 -8.78 L2.18 -7.69 L2.73 -7.14 L3.82 -6.59 L7.1 -5.49 L8.19 -4.94 L8.74 -4.39 L9.28 -3.29 L9.28 -1.65 L8.19 -0.55 L6.55 0 L4.37 0 L2.73 -0.55 L1.64 -1.65M13.1 -7.69 L13.1 -2.2 L13.65 -0.55 L14.74 0 L16.38 0 L17.47 -0.55 L19.11 -2.2M19.11 -7.69 L19.11 0M23.48 -7.69 L23.48 0M27.85 -7.69 L26.21 -7.69 L25.12 -7.14 L24.02 -6.04 L23.48 -4.39M33.85 -11.53 L32.76 -11.53 L31.67 -10.98 L31.12 -9.33 L31.12 0M29.48 -7.69 L33.31 -7.69M43.13 -7.69 L43.13 0M43.13 -6.04 L42.04 -7.14 L40.95 -7.69 L39.31 -7.69 L38.22 -7.14 L37.13 -6.04 L36.58 -4.39 L36.58 -3.29 L37.13 -1.65 L38.22 -0.55 L39.31 0 L40.95 0 L42.04 -0.55 L43.13 -1.65M53.51 -6.04 L52.42 -7.14 L51.32 -7.69 L49.69 -7.69 L48.59 -7.14 L47.5 -6.04 L46.96 -4.39 L46.96 -3.29 L47.5 -1.65 L48.59 -0.55 L49.69 0 L51.32 0 L52.42 -0.55 L53.51 -1.65M63.34 -1.65 L62.24 -0.55 L61.15 0 L59.51 0 L58.42 -0.55 L57.33 -1.65 L56.78 -3.29 L56.78 -4.39 L57.33 -6.04 L58.42 -7.14 L59.51 -7.69 L61.15 -7.69 L62.24 -7.14 L62.79 -6.59 L63.34 -5.49 L63.34 -4.39 L56.78 -4.39M75.89 -7.69 L75.89 0M75.89 -5.49 L77.53 -7.14 L78.62 -7.69 L80.26 -7.69 L81.35 -7.14 L81.9 -5.49 L83.54 -7.14 L84.63 -7.69 L86.27 -7.69 L87.36 -7.14 L87.91 -5.49 L87.91 0M81.9 -5.49 L81.9 0M98.28 -7.69 L98.28 0M98.28 -6.04 L97.19 -7.14 L96.1 -7.69 L94.46 -7.69 L93.37 -7.14 L92.27 -6.04 L91.73 -4.39 L91.73 -3.29 L92.27 -1.65 L93.37 -0.55 L94.46 0 L96.1 0 L97.19 -0.55 L98.28 -1.65M108.11 -6.04 L107.56 -7.14 L105.92 -7.69 L104.29 -7.69 L102.65 -7.14 L102.1 -6.04 L102.65 -4.94 L103.74 -4.39 L106.47 -3.84 L107.56 -3.29 L108.11 -2.2 L108.11 -1.65 L107.56 -0.55 L105.92 0 L104.29 0 L102.65 -0.55 L102.1 -1.65M117.39 -6.04 L116.84 -7.14 L115.21 -7.69 L113.57 -7.69 L111.93 -7.14 L111.38 -6.04 L111.93 -4.94 L113.02 -4.39 L115.75 -3.84 L116.84 -3.29 L117.39 -2.2 L117.39 -1.65 L116.84 -0.55 L115.21 0 L113.57 0 L111.93 -0.55 L111.38 -1.65M129.95 -11.53 L129.95 0M136.5 -7.69 L138.14 -7.69 L139.23 -7.14 L140.32 -6.04 L140.87 -4.39 L140.87 -3.29 L140.32 -1.65 L139.23 -0.55 L138.14 0 L136.5 0 L135.41 -0.55 L134.32 -1.65 L133.77 -3.29 L133.77 -4.39 L134.32 -6.04 L135.41 -7.14 L136.5 -7.69M150.15 -6.04 L149.6 -7.14 L147.97 -7.69 L146.33 -7.69 L144.69 -7.14 L144.14 -6.04 L144.69 -4.94 L145.78 -4.39 L148.51 -3.84 L149.6 -3.29 L150.15 -2.2 L150.15 -1.65 L149.6 -0.55 L147.97 0 L146.33 0 L144.69 -0.55 L144.14 -1.65M159.43 -6.04 L158.89 -7.14 L157.25 -7.69 L155.61 -7.69 L153.97 -7.14 L153.43 -6.04 L153.97 -4.94 L155.06 -4.39 L157.79 -3.84 L158.89 -3.29 L159.43 -2.2 L159.43 -1.65 L158.89 -0.55 L157.25 0 L155.61 0 L153.97 -0.55 L153.43 -1.65M171.99 -7.69 L171.99 0M176.36 -7.69 L174.72 -7.69 L173.63 -7.14 L172.54 -6.04 L171.99 -4.39M185.09 -7.69 L185.09 0M185.09 -6.04 L184 -7.14 L182.91 -7.69 L181.27 -7.69 L180.18 -7.14 L179.09 -6.04 L178.54 -4.39 L178.54 -3.29 L179.09 -1.65 L180.18 -0.55 L181.27 0 L182.91 0 L184 -0.55 L185.09 -1.65M190.01 -11.53 L190.01 -2.2 L190.55 -0.55 L191.65 0 L192.74 0M188.37 -7.69 L192.19 -7.69M202.02 -1.65 L200.93 -0.55 L199.84 0 L198.2 0 L197.11 -0.55 L196.01 -1.65 L195.47 -3.29 L195.47 -4.39 L196.01 -6.04 L197.11 -7.14 L198.2 -7.69 L199.84 -7.69 L200.93 -7.14 L201.47 -6.59 L202.02 -5.49 L202.02 -4.39 L195.47 -4.39M215.12 -11.53 L215.12 -2.2 L215.67 -0.55 L216.76 0 L217.85 0M213.49 -7.69 L217.31 -7.69M221.13 -7.69 L221.13 0M221.13 -12.08 L220.58 -11.53 L221.13 -10.98 L221.68 -11.53 L221.13 -12.08M225.5 -7.69 L225.5 0M225.5 -5.49 L227.14 -7.14 L228.23 -7.69 L229.87 -7.69 L230.96 -7.14 L231.5 -5.49 L233.14 -7.14 L234.23 -7.69 L235.87 -7.69 L236.96 -7.14 L237.51 -5.49 L237.51 0M231.5 -5.49 L231.5 0M247.88 -1.65 L246.79 -0.55 L245.7 0 L244.06 0 L242.97 -0.55 L241.88 -1.65 L241.33 -3.29 L241.33 -4.39 L241.88 -6.04 L242.97 -7.14 L244.06 -7.69 L245.7 -7.69 L246.79 -7.14 L247.34 -6.59 L247.88 -5.49 L247.88 -4.39 L241.33 -4.39M257.17 -6.04 L256.62 -7.14 L254.98 -7.69 L253.34 -7.69 L251.71 -7.14 L251.16 -6.04 L251.71 -4.94 L252.8 -4.39 L255.53 -3.84 L256.62 -3.29 L257.17 -2.2 L257.17 -1.65 L256.62 -0.55 L254.98 0 L253.34 0 L251.71 -0.55 L251.16 -1.65M269.72 -8.78 L269.72 -9.33 L270.27 -10.43 L270.82 -10.98 L271.91 -11.53 L274.09 -11.53 L275.18 -10.98 L275.73 -10.43 L276.28 -9.33 L276.28 -8.24 L275.73 -7.14 L274.64 -5.49 L269.18 0 L276.82 0M289.27 -6.48 L289.71 -7.3 L290.25 -7.69 L298.12 -7.69M291.84 -7.69 L291.67 -4.67 L290.91 -3.02 L290.25 -0.55M295.39 -7.69 L295.82 -3.29 L296.26 -1.54 L297.02 -0.55M309.04 -11.53 L315.59 -11.53 L316.68 -10.98 L317.23 -10.43 L317.77 -9.33 L317.77 -8.24 L317.23 -7.14 L316.68 -6.59 L315.59 -6.04 L317.23 -6.59 L317.77 -7.14 L318.32 -8.24 L318.32 -9.33 L317.77 -10.43 L317.23 -10.98 L315.59 -11.53M310.67 -11.53 L310.67 0M311.22 -11.53 L311.22 0M311.22 -6.04 L315.59 -6.04M313.95 -6.04 L315.04 -5.49 L315.59 -4.94 L317.23 -1.1 L317.77 -0.55 L318.32 -0.55 L318.86 -1.1 L318.86 -1.65M315.04 -5.49 L315.59 -4.39 L316.68 -0.55 L317.23 0 L318.32 0 L318.86 -1.1M309.04 0 L312.86 0M321.45 -14.12 L321.76 -13.81 L321.45 -13.49 L321.13 -13.81 L321.13 -14.12 L321.45 -14.76 L321.76 -15.08 L322.71 -15.39 L323.97 -15.39 L324.6 -15.08 L324.92 -14.76 L325.23 -14.12 L325.23 -13.49 L324.92 -12.85 L323.97 -12.22 L322.08 -11.27 L321.45 -10.63 L321.13 -9.68 L321.13 -8.73M323.97 -15.39 L324.92 -15.08 L325.23 -14.76 L325.55 -14.12 L325.55 -13.49 L325.23 -12.85 L324.29 -12.22 L322.71 -11.58M325.55 -10.32 L325.55 -9.68 L325.23 -9.36 L324.6 -9.05 L323.66 -9.05 L322.08 -9.68 L321.45 -9.68 L321.13 -9.36M322.08 -9.68 L323.66 -8.73 L324.92 -8.73 L325.23 -9.05 L325.55 -9.68M341.47 -13.73 L337.65 -13.73 L337.65 3.84 L341.47 3.84M338.19 -13.73 L338.19 3.84M349.11 0 L349.11 -11.53 L347.47 -9.88 L346.38 -9.33M348.57 -10.98 L348.57 0M346.38 0 L351.3 0M358.94 -11.53 L360.03 -11.53 L361.12 -10.98 L361.67 -10.43 L362.22 -9.33 L362.76 -6.59 L362.76 -4.94 L362.22 -2.2 L361.67 -1.1 L361.12 -0.55 L360.03 0 L361.67 -0.55 L362.76 -2.2 L363.31 -4.94 L363.31 -6.59 L362.76 -9.33 L361.67 -10.98 L360.03 -11.53M360.03 0 L358.94 0 L357.3 -0.55 L356.21 -2.2 L355.66 -4.94 L355.66 -6.59 L356.21 -9.33 L357.3 -10.98 L358.94 -11.53 L357.85 -10.98 L357.3 -10.43 L356.76 -9.33 L356.21 -6.59 L356.21 -4.94 L356.76 -2.2 L357.3 -1.1 L357.85 -0.55 L358.94 0M366.51 -11.58 L372.19 -11.58M379.03 -13.17 L378.71 -12.22 L378.08 -11.58 L377.13 -11.27 L376.82 -11.27 L375.87 -11.58 L375.24 -12.22 L374.92 -13.17 L374.92 -13.49 L375.24 -14.44 L375.87 -15.08 L376.82 -15.39 L377.45 -15.39 L378.08 -15.08 L378.71 -14.44 L379.03 -13.49 L379.03 -11.58 L378.71 -10.32 L378.4 -9.68 L377.76 -9.05 L377.13 -8.73 L378.08 -9.05 L378.71 -9.68 L379.03 -10.32 L379.34 -11.58 L379.34 -13.49 L379.03 -14.44 L378.4 -15.08 L377.45 -15.39M376.82 -15.39 L376.19 -15.08 L375.56 -14.44 L375.24 -13.49 L375.24 -13.17 L375.56 -12.22 L376.19 -11.58 L376.82 -11.27M375.56 -9.68 L375.87 -10 L375.56 -10.32 L375.24 -10 L375.24 -9.68 L375.56 -9.05 L376.19 -8.73 L377.13 -8.73M381.61 -11.53 L383.79 -11.53 L387.07 -1.65M383.25 0 L383.25 -11.53 L387.07 0 L390.89 -11.53 L393.08 -11.53M390.89 -11.53 L390.89 0M391.44 -11.53 L391.44 0M381.61 0 L384.89 0M389.25 0 L393.08 0M402.25 0 L402.08 1.05 L401.6 2 L400.85 2.75 L399.91 3.24 L398.86 3.4 L397.82 3.24 L396.87 2.75 L396.13 2 L395.64 1.05 L395.48 0 L395.64 -1.05 L396.13 -2 L396.87 -2.75 L397.82 -3.24 L398.86 -3.4 L399.91 -3.24 L400.85 -2.75 L401.6 -2 L402.08 -1.05 L402.25 0M399.25 0 L399.13 0.27 L398.86 0.38 L398.59 0.27 L398.48 0 L398.59 -0.27 L398.86 -0.38 L399.13 -0.27 L399.25 0M414.53 -13.73 L404.71 3.84M416.72 -7.69 L419.99 0 L423.27 -7.69M419.99 0 L418.9 2.2 L417.81 3.29 L416.72 3.84 L416.17 3.84M426.55 -7.69 L426.55 0M430.91 -7.69 L429.28 -7.69 L428.18 -7.14 L427.09 -6.04 L426.55 -4.39M433.1 -13.73 L436.92 -13.73 L436.92 3.84 L433.1 3.84M436.37 -13.73 L436.37 3.84" fill="none" stroke="#000" stroke-width="0.68" stroke-linecap="round" stroke-linejoin="round"/>
<path d="M215.8 60.4 L243.9 60.4" fill="none" stroke="#000" stroke-width="1.85" stroke-linejoin="round"/>
<path transform="translate(254.2 65.65) translate(0 0)" d="M9.33 -11.53 L2.2 -11.53 L2.2 0M2.2 -6.04 L6.59 -6.04M19.22 -9.88 L18.12 -10.98 L16.47 -11.53 L14.27 -11.53 L12.63 -10.98 L11.53 -9.88 L11.53 -8.78 L12.08 -7.69 L12.63 -7.14 L13.73 -6.59 L17.02 -5.49 L18.12 -4.94 L18.67 -4.39 L19.22 -3.29 L19.22 -1.65 L18.12 -0.55 L16.47 0 L14.27 0 L12.63 -0.55 L11.53 -1.65M25.8 -11.53 L26.9 -11.53 L28.55 -10.98 L29.65 -9.33 L30.2 -6.59 L30.2 -4.94 L29.65 -2.2 L28.55 -0.55 L26.9 0 L25.8 0 L24.16 -0.55 L23.06 -2.2 L22.51 -4.94 L22.51 -6.59 L23.06 -9.33 L24.16 -10.98 L25.8 -11.53M34.04 -11.53 L34.04 0M41.72 -11.53 L41.72 0M34.04 -6.04 L41.72 -6.04M46.12 -8.78 L46.12 -9.33 L46.66 -10.43 L47.21 -10.98 L48.31 -11.53 L50.51 -11.53 L51.61 -10.98 L52.16 -10.43 L52.7 -9.33 L52.7 -8.24 L52.16 -7.14 L51.06 -5.49 L45.57 0 L53.25 0M57.1 -11.53 L57.1 0 L63.68 0M65.88 -11.53 L73.57 0M73.57 -11.53 L65.88 0M81.25 0 L81.25 -11.53 L79.61 -9.88 L78.51 -9.33" fill="none" stroke="#000" stroke-width="0.68" stroke-linecap="round" stroke-linejoin="round"/>
<path d="M215.8 87.86 L243.9 87.86" fill="none" stroke="#f00" stroke-width="1.85" stroke-linejoin="round"/>
<path transform="translate(254.2 93.11) translate(0 0)" d="M9.33 -11.53 L2.2 -11.53 L2.2 0M2.2 -6.04 L6.59 -6.04M19.22 -9.88 L18.12 -10.98 L16.47 -11.53 L14.27 -11.53 L12.63 -10.98 L11.53 -9.88 L11.53 -8.78 L12.08 -7.69 L12.63 -7.14 L13.73 -6.59 L17.02 -5.49 L18.12 -4.94 L18.67 -4.39 L19.22 -3.29 L19.22 -1.65 L18.12 -0.55 L16.47 0 L14.27 0 L12.63 -0.55 L11.53 -1.65M26.9 0 L26.9 -11.53 L25.25 -9.88 L24.16 -9.33M36.23 -11.53 L38.43 -11.53 L40.08 -10.98 L40.63 -9.88 L40.63 -8.78 L40.08 -7.69 L38.98 -7.14 L36.78 -6.59 L35.14 -6.04 L34.04 -4.94 L33.49 -3.84 L33.49 -2.2 L34.04 -1.1 L34.59 -0.55 L36.23 0 L38.43 0 L40.08 -0.55 L40.63 -1.1 L41.18 -2.2 L41.18 -3.84 L40.63 -4.94 L39.53 -6.04 L37.88 -6.59 L35.69 -7.14 L34.59 -7.69 L34.04 -8.78 L34.04 -9.88 L34.59 -10.98 L36.23 -11.53M45.02 -11.53 L45.02 0M52.7 -11.53 L52.7 0M45.02 -6.04 L52.7 -6.04M57.1 -8.78 L57.1 -9.33 L57.65 -10.43 L58.19 -10.98 L59.29 -11.53 L61.49 -11.53 L62.59 -10.98 L63.14 -10.43 L63.68 -9.33 L63.68 -8.24 L63.14 -7.14 L62.04 -5.49 L56.55 0 L64.23 0M68.08 -11.53 L68.08 0 L74.66 0M76.86 -11.53 L84.55 0M84.55 -11.53 L76.86 0M92.23 0 L92.23 -11.53 L90.59 -9.88 L89.49 -9.33" fill="none" stroke="#000" stroke-width="0.68" stroke-linecap="round" stroke-linejoin="round"/>
<path d="M215.8 115.32 L243.9 115.32" fill="none" stroke="#0f0" stroke-width="1.85" stroke-linejoin="round"/>
<path transform="translate(254.2 120.57) translate(0 0)" d="M9.33 -11.53 L2.2 -11.53 L2.2 0M2.2 -6.04 L6.59 -6.04M19.22 -9.88 L18.12 -10.98 L16.47 -11.53 L14.27 -11.53 L12.63 -10.98 L11.53 -9.88 L11.53 -8.78 L12.08 -7.69 L12.63 -7.14 L13.73 -6.59 L17.02 -5.49 L18.12 -4.94 L18.67 -4.39 L19.22 -3.29 L19.22 -1.65 L18.12 -0.55 L16.47 0 L14.27 0 L12.63 -0.55 L11.53 -1.65M26.9 0 L26.9 -11.53 L25.25 -9.88 L24.16 -9.33M34.04 -1.65 L34.59 -0.55 L36.23 0 L37.33 0 L38.98 -0.55 L40.08 -2.2 L40.63 -4.94 L40.63 -7.69 L40.08 -9.88 L38.98 -10.98 L37.33 -11.53 L36.78 -11.53 L35.14 -10.98 L34.04 -9.88 L33.49 -8.24 L33.49 -7.69 L34.04 -6.04 L35.14 -4.94 L36.78 -4.39 L37.33 -4.39 L38.98 -4.94 L40.08 -6.04 L40.63 -7.69M45.02 -11.53 L45.02 0M52.7 -11.53 L52.7 0M45.02 -6.04 L52.7 -6.04M57.1 -8.78 L57.1 -9.33 L57.65 -10.43 L58.19 -10.98 L59.29 -11.53 L61.49 -11.53 L62.59 -10.98 L63.14 -10.43 L63.68 -9.33 L63.68 -8.24 L63.14 -7.14 L62.04 -5.49 L56.55 0 L64.23 0M68.08 -11.53 L68.08 0 L74.66 0M76.86 -11.53 L84.55 0M84.55 -11.53 L76.86 0M92.23 0 L92.23 -11.53 L90.59 -9.88 L89.49 -9.33" fill="none" stroke="#000" stroke-width="0.68" stroke-linecap="round" stroke-linejoin="round"/>
<path d="M215.8 142.78 L243.9 142.78" fill="none" stroke="#00f" stroke-width="1.85" stroke-linejoin="round"/>
<path transform="translate(254.2 148.03) translate(0 0)" d="M9.33 -11.53 L2.2 -11.53 L2.2 0M2.2 -6.04 L6.59 -6.04M19.22 -9.88 L18.12 -10.98 L16.47 -11.53 L14.27 -11.53 L12.63 -10.98 L11.53 -9.88 L11.53 -8.78 L12.08 -7.69 L12.63 -7.14 L13.73 -6.59 L17.02 -5.49 L18.12 -4.94 L18.67 -4.39 L19.22 -3.29 L19.22 -1.65 L18.12 -0.55 L16.47 0 L14.27 0 L12.63 -0.55 L11.53 -1.65M23.06 -8.78 L23.06 -9.33 L23.61 -10.43 L24.16 -10.98 L25.25 -11.53 L27.45 -11.53 L28.55 -10.98 L29.1 -10.43 L29.65 -9.33 L29.65 -8.24 L29.1 -7.14 L28 -5.49 L22.51 0 L30.2 0M36.78 -11.53 L37.88 -11.53 L39.53 -10.98 L40.63 -9.33 L41.18 -6.59 L41.18 -4.94 L40.63 -2.2 L39.53 -0.55 L37.88 0 L36.78 0 L35.14 -0.55 L34.04 -2.2 L33.49 -4.94 L33.49 -6.59 L34.04 -9.33 L35.14 -10.98 L36.78 -11.53M45.02 -11.53 L45.02 0M52.7 -11.53 L52.7 0M45.02 -6.04 L52.7 -6.04M57.1 -8.78 L57.1 -9.33 L57.65 -10.43 L58.19 -10.98 L59.29 -11.53 L61.49 -11.53 L62.59 -10.98 L63.14 -10.43 L63.68 -9.33 L63.68 -8.24 L63.14 -7.14 L62.04 -5.49 L56.55 0 L64.23 0M68.08 -11.53 L68.08 0 L74.66 0M76.86 -11.53 L84.55 0M84.55 -11.53 L76.86 0M92.23 0 L92.23 -11.53 L90.59 -9.88 L89.49 -9.33" fill="none" stroke="#000" stroke-width="0.68" stroke-linecap="round" stroke-linejoin="round"/>
<path d="M215.8 170.24 L243.9 170.24" fill="none" stroke="#0ff" stroke-width="1.85" stroke-linejoin="round"/>
<path transform="translate(254.2 175.49) translate(0 0)" d="M9.33 -11.53 L2.2 -11.53 L2.2 0M2.2 -6.04 L6.59 -6.04M19.22 -9.88 L18.12 -10.98 L16.47 -11.53 L14.27 -11.53 L12.63 -10.98 L11.53 -9.88 L11.53 -8.78 L12.08 -7.69 L12.63 -7.14 L13.73 -6.59 L17.02 -5.49 L18.12 -4.94 L18.67 -4.39 L19.22 -3.29 L19.22 -1.65 L18.12 -0.55 L16.47 0 L14.27 0 L12.63 -0.55 L11.53 -1.65M23.06 -8.78 L23.06 -9.33 L23.61 -10.43 L24.16 -10.98 L25.25 -11.53 L27.45 -11.53 L28.55 -10.98 L29.1 -10.43 L29.65 -9.33 L29.65 -8.24 L29.1 -7.14 L28 -5.49 L22.51 0 L30.2 0M37.88 0 L37.88 -11.53 L36.23 -9.88 L35.14 -9.33M45.02 -11.53 L45.02 0M52.7 -11.53 L52.7 0M45.02 -6.04 L52.7 -6.04M57.1 -8.78 L57.1 -9.33 L57.65 -10.43 L58.19 -10.98 L59.29 -11.53 L61.49 -11.53 L62.59 -10.98 L63.14 -10.43 L63.68 -9.33 L63.68 -8.24 L63.14 -7.14 L62.04 -5.49 L56.55 0 L64.23 0M68.08 -11.53 L68.08 0 L74.66 0M76.86 -11.53 L84.55 0M84.55 -11.53 L76.86 0M92.23 0 L92.23 -11.53 L90.59 -9.88 L89.49 -9.33" fill="none" stroke="#000" stroke-width="0.68" stroke-linecap="round" stroke-linejoin="round"/>
<path d="M215.8 197.7 L243.9 197.7" fill="none" stroke="#000" stroke-width="1.85" stroke-linejoin="round" stroke-dasharray="9.4 9.3"/>
<path transform="translate(254.2 202.95) translate(0 0)" d="M9.33 -11.53 L2.2 -11.53 L2.2 0M2.2 -6.04 L6.59 -6.04M19.22 -9.88 L18.12 -10.98 L16.47 -11.53 L14.27 -11.53 L12.63 -10.98 L11.53 -9.88 L11.53 -8.78 L12.08 -7.69 L12.63 -7.14 L13.73 -6.59 L17.02 -5.49 L18.12 -4.94 L18.67 -4.39 L19.22 -3.29 L19.22 -1.65 L18.12 -0.55 L16.47 0 L14.27 0 L12.63 -0.55 L11.53 -1.65M25.8 -11.53 L26.9 -11.53 L28.55 -10.98 L29.65 -9.33 L30.2 -6.59 L30.2 -4.94 L29.65 -2.2 L28.55 -0.55 L26.9 0 L25.8 0 L24.16 -0.55 L23.06 -2.2 L22.51 -4.94 L22.51 -6.59 L23.06 -9.33 L24.16 -10.98 L25.8 -11.53M34.04 -11.53 L34.04 0M41.72 -11.53 L41.72 0M34.04 -6.04 L41.72 -6.04M49.96 0 L49.96 -11.53 L48.31 -9.88 L47.21 -9.33M59.84 -11.53 L60.94 -11.53 L62.59 -10.98 L63.68 -9.33 L64.23 -6.59 L64.23 -4.94 L63.68 -2.2 L62.59 -0.55 L60.94 0 L59.84 0 L58.19 -0.55 L57.1 -2.2 L56.55 -4.94 L56.55 -6.59 L57.1 -9.33 L58.19 -10.98 L59.84 -11.53M68.08 -11.53 L68.08 0 L74.66 0M76.86 -11.53 L84.55 0M84.55 -11.53 L76.86 0M92.23 0 L92.23 -11.53 L90.59 -9.88 L89.49 -9.33" fill="none" stroke="#000" stroke-width="0.68" stroke-linecap="round" stroke-linejoin="round"/>
</svg>
<div class="sr">Surface mass loss rate [10^-13 g s^-1 cm^-2] vs Radius [AU]; Surface mass loss rate times 2 pi R^2 [10^-9 Msun/yr] vs Radius [AU]. Legend: FS0H2LX1, FS18H2LX1, FS19H2LX1, FS20H2LX1, FS21H2LX1, FS0H10LX1</div>
</body></html>
